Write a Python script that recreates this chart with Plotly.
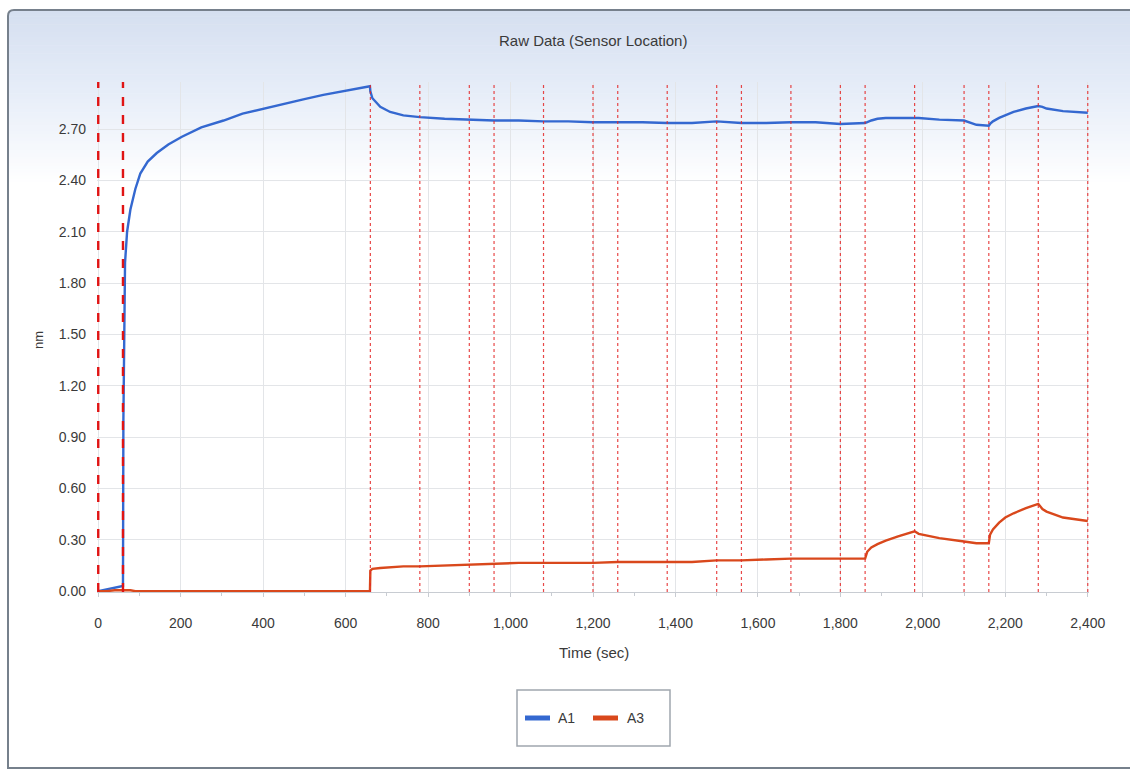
import plotly.graph_objects as go

# Sample times (s) with sensor readings (nm) for each location
time_s = [0, 20, 40, 59, 60, 61, 63, 65, 70, 78, 90, 102, 120, 142, 170, 203, 250, 304,
          350, 401, 450, 500, 546, 600, 659,
          660, 665, 684, 708, 740, 780, 840, 900, 960, 1020, 1080, 1140, 1200, 1260,
          1320, 1380, 1440, 1500, 1560, 1620, 1680, 1740, 1800, 1860,
          1865, 1875, 1890, 1910, 1940, 1960, 1980, 1990, 2040, 2100, 2130, 2160,
          2163, 2170, 2185, 2200, 2220, 2250, 2280, 2290, 2300, 2340, 2400]

a1_nm = [0.00, 0.01, 0.02, 0.03, 0.03, 1.00, 1.60, 1.92, 2.10, 2.23, 2.35, 2.44, 2.51,
         2.56, 2.61, 2.655, 2.71, 2.75, 2.79, 2.82, 2.85, 2.875, 2.90, 2.925, 2.95,
         2.92, 2.88, 2.83, 2.80, 2.78, 2.77, 2.76, 2.755, 2.75, 2.75, 2.745, 2.745, 2.74,
         2.74, 2.74, 2.735, 2.735, 2.745, 2.735, 2.735, 2.74, 2.74, 2.73, 2.735,
         2.74, 2.75, 2.76, 2.765, 2.765, 2.765, 2.765, 2.765, 2.755, 2.75, 2.725, 2.72,
         2.73, 2.745, 2.765, 2.78, 2.80, 2.82, 2.835, 2.83, 2.82, 2.805, 2.795]

a3_nm = [0.00, 0.00, 0.005, 0.005, 0.005, 0.005, 0.005, 0.005, 0.005, 0.005, 0.00, 0.00,
         0.00, 0.00, 0.00, 0.00, 0.00, 0.00, 0.00, 0.00, 0.00, 0.00, 0.00, 0.00, 0.00,
         0.12, 0.13, 0.135, 0.14, 0.145, 0.145, 0.15, 0.155, 0.16, 0.165, 0.165, 0.165,
         0.165, 0.17, 0.17, 0.17, 0.17, 0.18, 0.18, 0.185, 0.19, 0.19, 0.19, 0.19,
         0.23, 0.255, 0.275, 0.295, 0.32, 0.335, 0.35, 0.335, 0.31, 0.29, 0.28, 0.28,
         0.33, 0.36, 0.40, 0.43, 0.455, 0.485, 0.51, 0.48, 0.465, 0.43, 0.41]

# Step boundaries of the assay (s); the first two are the baseline markers
step_times = [0, 60, 660, 780, 900, 960, 1080, 1200, 1260, 1380, 1500, 1560, 1680,
              1800, 1860, 1980, 2100, 2160, 2280, 2400]

x_ticks = [0, 200, 400, 600, 800, 1000, 1200, 1400, 1600, 1800, 2000, 2200, 2400]
y_ticks = [0.0, 0.3, 0.6, 0.9, 1.2, 1.5, 1.8, 2.1, 2.4, 2.7]

series_names = ["A1", "A3"]
series_colors = ["#3468d0", "#d9481c"]

W, H = 1130, 772
ML, MR, MT, MB = 97, 41, 82, 180
PW, PH = W - ML - MR, H - MT - MB


def px_x(px):
    return (px - ML) / PW


def px_y(py):
    return (H - MB - py) / PH


def lerp_rgb(c0, c1, f):
    return tuple(int(round(a + (b - a) * f)) for a, b in zip(c0, c1))


fig = go.Figure()
for name, color, vals in zip(series_names, series_colors, [a1_nm, a3_nm]):
    fig.add_trace(go.Scatter(x=time_s, y=vals, name=name, mode="lines",
                             line=dict(color=color, width=2.4), showlegend=False))

shapes = []
# blue-to-white panel gradient (pixel stops)
stops = [(11, (0xd5, 0xdf, 0xf0)), (90, (0xe6, 0xed, 0xf8)), (185, (0xff, 0xff, 0xff))]
for (ya, ca), (yb, cb) in zip(stops[:-1], stops[1:]):
    n = 30
    for i in range(n):
        y0 = ya + (yb - ya) * i / n
        y1 = ya + (yb - ya) * (i + 1) / n + 0.6
        r, g, b = lerp_rgb(ca, cb, (i + 0.5) / n)
        shapes.append(dict(type="rect", xref="paper", yref="paper",
                           x0=px_x(9), x1=px_x(1135), y0=px_y(y1), y1=px_y(y0),
                           fillcolor=f"rgb({r},{g},{b})", line=dict(width=0),
                           layer="below"))

# panel frame with rounded top-left corner
frame = (f"M {px_x(1140)},{px_y(768)} L {px_x(8)},{px_y(768)} "
         f"L {px_x(8)},{px_y(16)} Q {px_x(8)},{px_y(10)} {px_x(14)},{px_y(10)} "
         f"L {px_x(1140)},{px_y(10)}")
shapes.append(dict(type="path", xref="paper", yref="paper", path=frame,
                   line=dict(color="#76808c", width=2), layer="below"))

# step boundary markers
for k, t in enumerate(step_times):
    if k < 2:
        ln = dict(color="#e01414", width=2.4, dash="dash")
    else:
        ln = dict(color="rgba(228,40,40,0.85)", width=1.2, dash="dot")
    shapes.append(dict(type="line", xref="x", yref="paper", x0=t, x1=t,
                       y0=0, y1=1, line=ln, layer="above"))

# legend box with swatches
shapes.append(dict(type="rect", xref="paper", yref="paper",
                   x0=px_x(517), x1=px_x(670), y0=px_y(746), y1=px_y(690),
                   line=dict(color="#a0a6ae", width=1.5), fillcolor="white"))
legend_swatch_x = [525, 593]
legend_text_x = [556, 625]
for sx, color in zip(legend_swatch_x, series_colors):
    shapes.append(dict(type="rect", xref="paper", yref="paper",
                       x0=px_x(sx), x1=px_x(sx + 25), y0=px_y(720.5), y1=px_y(715.5),
                       line=dict(width=0), fillcolor=color))

font_main = "Liberation Sans, Arial, sans-serif"
text_col = "#3a3a3a"

annotations = [
    dict(text="Raw Data (Sensor Location)", xref="paper", yref="paper",
         x=px_x(593), y=px_y(40), xanchor="center", yanchor="middle",
         showarrow=False, font=dict(size=15, color=text_col)),
    dict(text="Time (sec)", xref="paper", yref="paper",
         x=px_x(594), y=px_y(652), xanchor="center", yanchor="middle",
         showarrow=False, font=dict(size=15, color=text_col)),
    dict(text="nm", xref="paper", yref="paper", textangle=-90,
         x=px_x(38), y=px_y(340), xanchor="center", yanchor="middle",
         showarrow=False, font=dict(size=13, color=text_col)),
]
for tx, name in zip(legend_text_x, series_names):
    annotations.append(dict(text=name, xref="paper", yref="paper", x=px_x(tx),
                            y=px_y(718), xanchor="left", yanchor="middle",
                            showarrow=False, font=dict(size=14, color=text_col)))

fig.update_layout(
    width=W, height=H,
    margin=dict(l=ML, r=MR, t=MT, b=MB),
    paper_bgcolor="white",
    plot_bgcolor="rgba(0,0,0,0)",
    shapes=shapes,
    annotations=annotations,
    font=dict(family=font_main, size=14, color=text_col),
    showlegend=False,
    xaxis=dict(range=[-3, 2403], tickvals=x_ticks, tickformat=",",
               showgrid=True, gridcolor="#e3e5e8", gridwidth=1,
               zeroline=False, showline=True, linecolor="#c8ccd2",
               ticks="outside", ticklen=4, tickcolor="#c8ccd2",
               ticklabelstandoff=14,
               minor=dict(dtick=100, ticks="outside", ticklen=3, tickcolor="#c8ccd2"),
               tickfont=dict(size=14, color=text_col)),
    yaxis=dict(range=[-0.005, 2.975], tickvals=y_ticks, tickformat=".2f",
               showgrid=True, gridcolor="#e3e5e8", gridwidth=1,
               zeroline=False, showline=False, ticks="",
               ticklabelstandoff=10,
               tickfont=dict(size=14, color=text_col)),
)

fig.write_html("out.html")
